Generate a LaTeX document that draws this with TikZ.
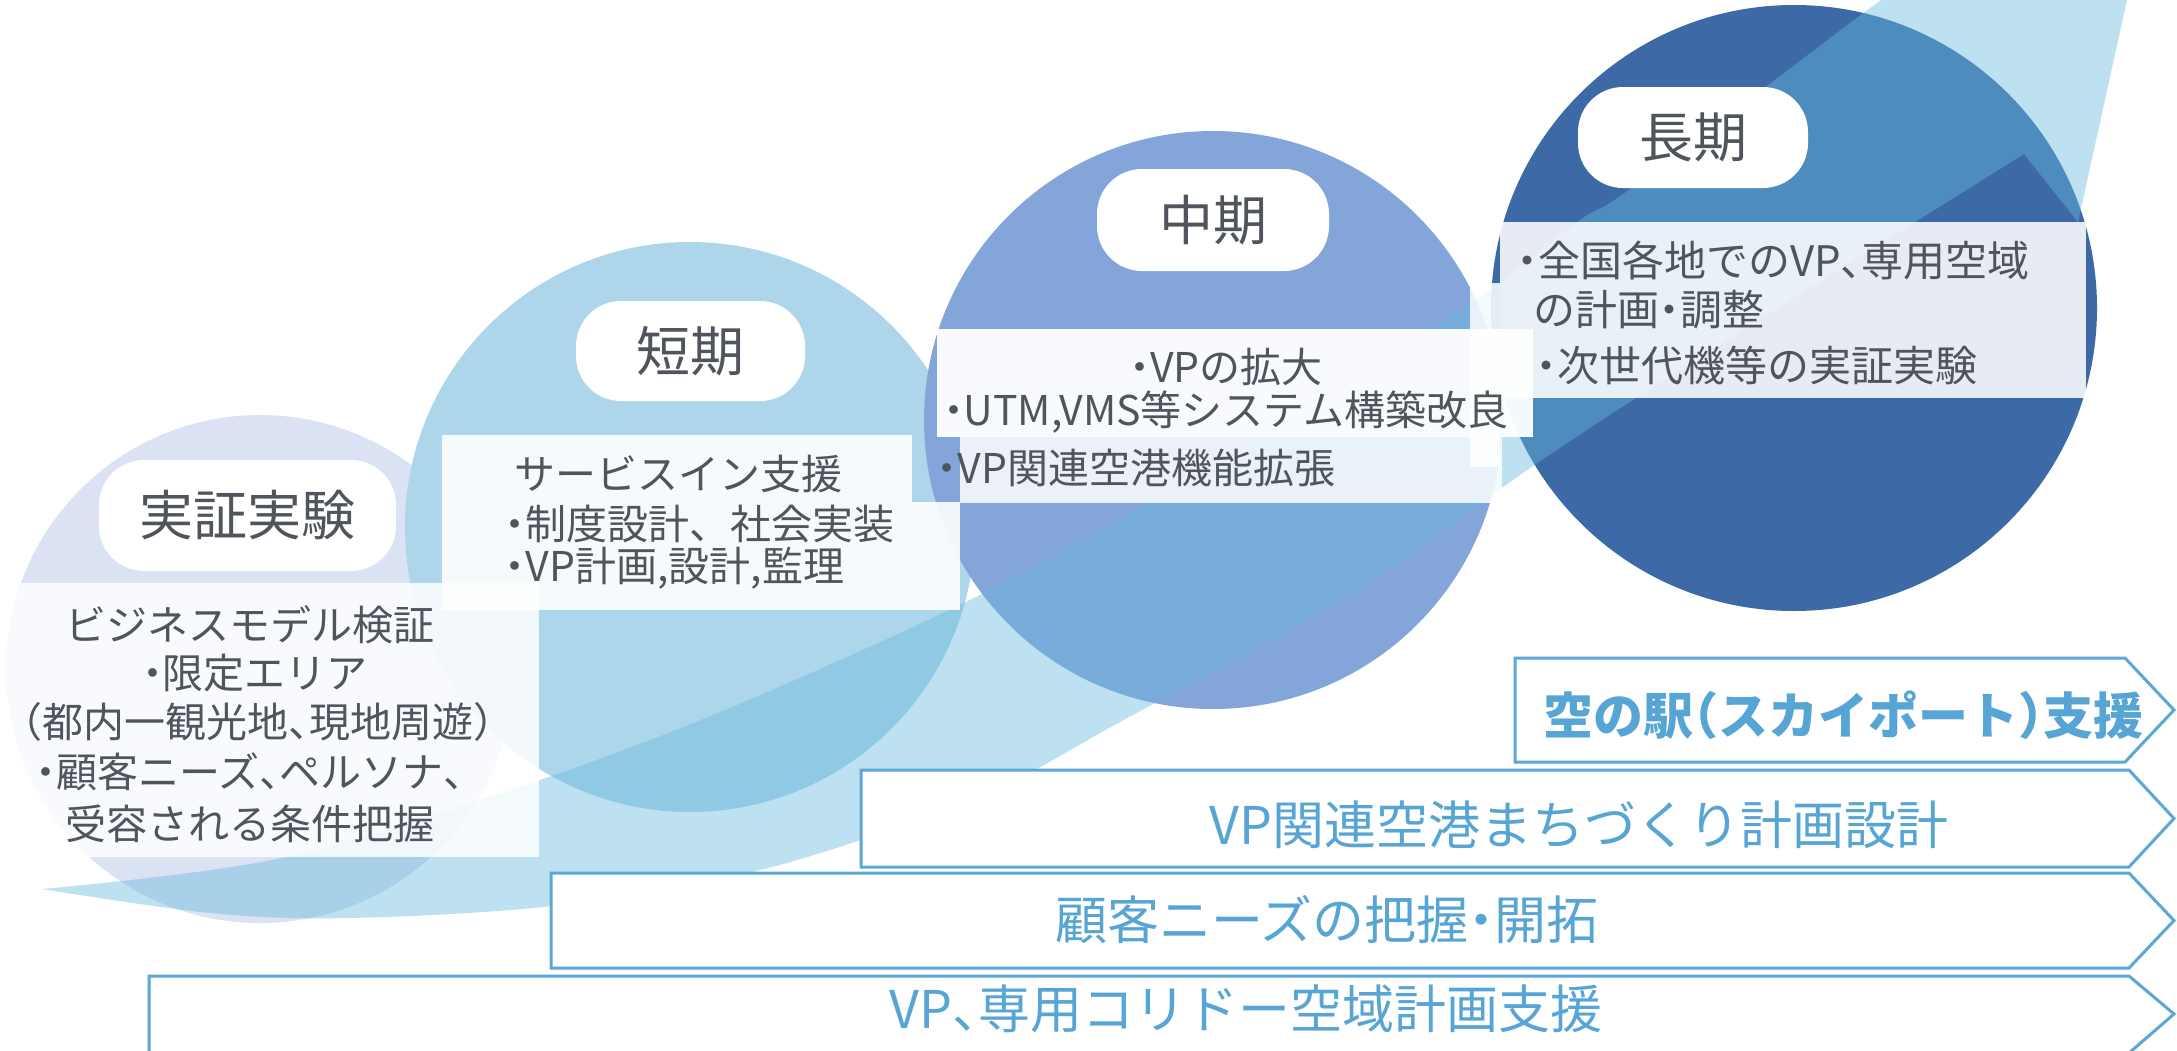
\documentclass[tikz,border=0pt]{standalone}
\usepackage{fontspec}
\setmainfont{Noto Sans CJK JP}
\newfontfamily\jph[RawFeature=+halt]{Noto Sans CJK JP}
\newcommand\jdot{{\jph ・}}
\newcommand\jcm{{\jph 、}}
\newcommand\jlp{{\jph （}}
\newcommand\jrp{{\jph ）}}
\definecolor{cA}{RGB}{218,226,243}
\definecolor{cB}{RGB}{174,214,234}
\definecolor{cC}{RGB}{132,165,217}
\definecolor{cD}{RGB}{61,106,167}
\definecolor{swc}{RGB}{105,185,222}
\definecolor{txt}{RGB}{80,84,92}
\definecolor{ablue}{RGB}{91,168,214}
\definecolor{atext}{RGB}{86,165,213}
\tikzset{
  body/.style={inner sep=0pt, text=txt, font=\fontsize{41}{49}\selectfont},
  bodyL/.style={inner sep=0pt, text=txt, font=\fontsize{42}{50}\selectfont},
  pill/.style={fill=white, rounded corners=45pt, inner sep=0pt, text=txt, font=\fontsize{54}{60}\selectfont},
  wbox/.style={fill=white, opacity=#1},
  arr/.style={draw=ablue, line width=3pt, fill=white, line join=miter},
  atxt/.style={inner sep=0pt, text=atext, font=\fontsize{52}{58}\selectfont},
}
\begin{document}
\begin{tikzpicture}[x=1pt,y=-1pt]
\useasboundingbox (0,0) rectangle (2177,1050);
\clip (0,0) rectangle (2177,1050);
% circles
\fill[cA] (260,669) circle[radius=254];
\fill[cB] (690,527) circle[radius=285];
\fill[cC] (1213,420) circle[radius=289];
\fill[cD] (1794,308) circle[radius=303];
% swoosh
\fill[swc, opacity=0.43]
  plot[smooth, tension=0.55] coordinates {(42,889) (210,913) (351,918) (561,905) (772,867) (982,795) (1120,722) (1357,590) (1533,466) (1700,357) (2024,154)}
  -- (2078,222) -- (2127,0) -- (2131,-20) -- (1910,-20)
  -- plot[smooth, tension=0.55] coordinates {(1910,-20) (1858,17) (1633,187) (1577,222) (1455,313) (1066,550) (772,690) (540,780) (281,858) (42,889)}
  -- cycle;
% translucent text panels
\fill[wbox=0.85] (0,583) rectangle (539,857);
\fill[wbox=0.9] (442,435) rectangle (912,502);
\fill[wbox=0.9] (442,502) rectangle (960,610);
\fill[wbox=0.95] (937,329) rectangle (1533,437);
\fill[wbox=0.85] (960,437) rectangle (1502,503);
\fill[wbox=0.85] (1470,283) rectangle (1500,467);
\fill[wbox=0.88] (1500,222) rectangle (2086,398);
% title pills
\node[pill, minimum width=297pt, minimum height=111pt] (p1) at (247.5,515.5) {実証実験};
\node[pill, minimum width=229pt, minimum height=100pt] (p2) at (690.5,351) {短期};
\node[pill, minimum width=232pt, minimum height=102pt] (p3) at (1213,220) {中期};
\node[pill, minimum width=230pt, minimum height=101pt] (p4) at (1693,137.5) {長期};
% chevron bars
\draw[arr] (1515,658) -- (2125,658) -- (2174,710) -- (2125,762) -- (1515,762) -- cycle;
\draw[arr] (861,770) -- (2129,770) -- (2174,818.5) -- (2129,867) -- (861,867) -- cycle;
\draw[arr] (551,873) -- (2129,873) -- (2174,920.5) -- (2129,968) -- (551,968) -- cycle;
\draw[arr] (149,976) -- (2129,976) -- (2174,1014) -- (2129,1053) -- (149,1053) -- cycle;
% texts: 実証実験
\node[body] (t11) at (250,625) {ビジネスモデル検証};
\node[body] (t12) at (255,673) {\jdot 限定エリア};
\node[body] (t13) at (258,722) {\jlp 都内一観光地\jcm 現地周遊\jrp};
\node[body] (t14) at (250,772) {\jdot 顧客ニーズ\jcm ペルソナ\jcm};
\node[body] (t15) at (250,824) {受容される条件把握};
% 短期
\node[body, anchor=west] (t21) at (514,474) {サービスイン支援};
\node[body, anchor=west] (t22) at (505,524) {\jdot 制度設計、社会実装};
\node[body, anchor=west] (t23) at (505,568) {\jdot VP計画,設計,監理};
% 中期
\node[body] (t31) at (1226,367) {\jdot VPの拡大};
\node[body] (t32) at (1226,412) {\jdot UTM,VMS等システム構築改良};
\node[body, anchor=west] (t33) at (937,468) {\jdot VP関連空港機能拡張};
% 長期
\node[bodyL, anchor=west] (t41) at (1517,260) {\jdot 全国各地でのVP\jcm 専用空域};
\node[bodyL, anchor=west] (t42) at (1533,310) {の計画\jdot 調整};
\node[bodyL, anchor=west] (t43) at (1536,365) {\jdot 次世代機等の実証実験};
% bar labels
\node[atxt, font=\fontsize{50}{56}\selectfont\bfseries] (a1t) at (1843,715) {空の駅\jlp スカイポート\jrp 支援};
\node[atxt] (a2t) at (1579,825) {VP関連空港まちづくり計画設計};
\node[atxt] (a3t) at (1327,920) {顧客ニーズの把握\jdot 開拓};
\node[atxt] (a4t) at (1246,1009) {VP\jcm 専用コリドー空域計画支援};
\end{tikzpicture}
\end{document}
